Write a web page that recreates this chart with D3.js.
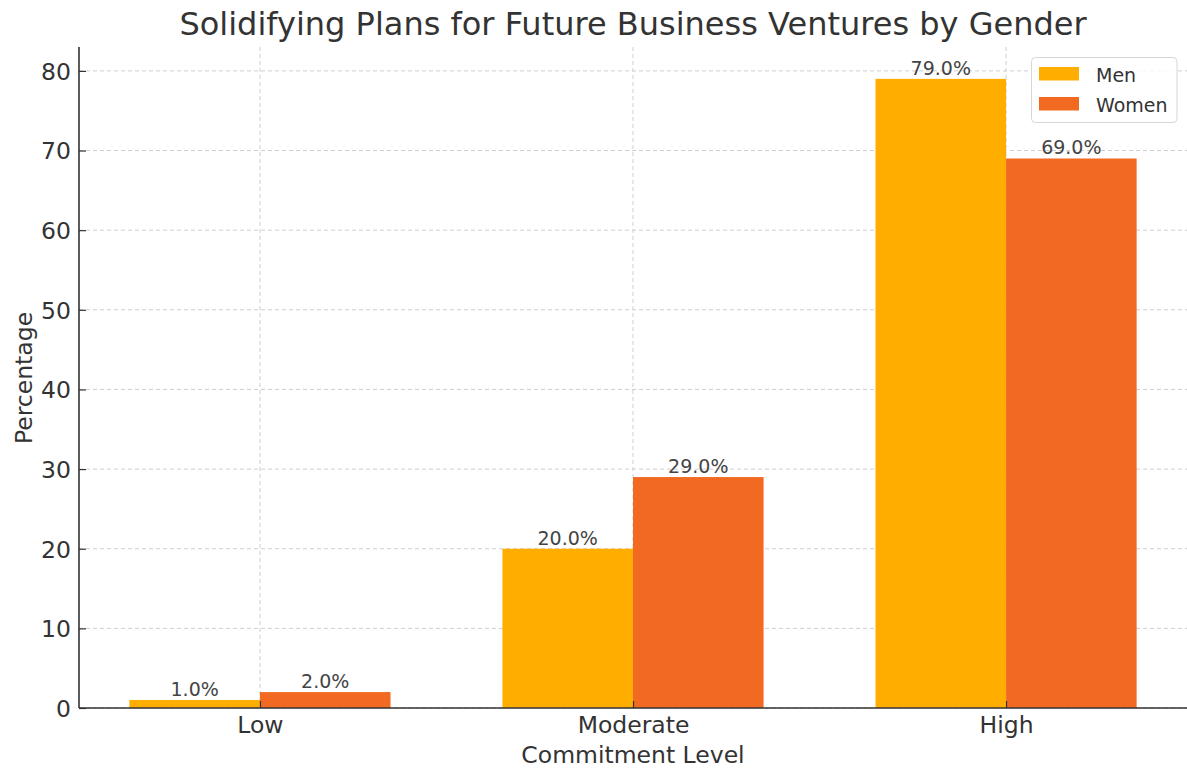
<!DOCTYPE html>
<html><head><meta charset="utf-8">
<script src="https://cdn.jsdelivr.net/npm/d3@7"></script>
<style>body{margin:0;background:#fff}svg{display:block;font-family:"DejaVu Sans",sans-serif}</style>
</head><body><svg id="c" width="1187" height="771"></svg>
<script>
const categories = ["Low", "Moderate", "High"];
const seriesNames = ["Men", "Women"];
const men = [1, 20, 79];
const women = [2, 29, 69];
const yTicks = [0, 10, 20, 30, 40, 50, 60, 70, 80];
const colors = ["#FFAE00", "#F26A22"];

const svg = d3.select("#c");
const L = 79, R = 1187, T = 47, B = 708;
const x = d3.scaleLinear().domain([-0.485, 2.485]).range([L, R]);
const y = d3.scaleLinear().domain([0, 83.0]).range([B, T]);
const bw = 0.35;
const textCol = "#333";

// grid
const g = svg.append("g");
g.selectAll("line.hy").data(yTicks).join("line")
  .attr("x1", L).attr("x2", R).attr("y1", d => y(d)).attr("y2", d => y(d))
  .attr("stroke", "#cfcfcf").attr("stroke-dasharray", "4,3").attr("stroke-width", 1);
g.selectAll("line.vx").data(categories).join("line")
  .attr("x1", (d, i) => x(i)).attr("x2", (d, i) => x(i)).attr("y1", T).attr("y2", B)
  .attr("stroke", "#cfcfcf").attr("stroke-dasharray", "4,3").attr("stroke-width", 1);

// bars
const series = [men, women];
series.forEach((vals, s) => {
  const off = s === 0 ? -bw : 0;
  svg.append("g").selectAll("rect").data(vals).join("rect")
    .attr("x", (d, i) => x(i + off)).attr("width", x(bw) - x(0))
    .attr("y", d => y(d)).attr("height", d => B - y(d))
    .attr("fill", colors[s]);
  svg.append("g").selectAll("text").data(vals).join("text")
    .attr("x", (d, i) => x(i + off + bw / 2)).attr("y", d => y(d) - 4)
    .attr("text-anchor", "middle").attr("font-size", 19).attr("fill", "#444")
    .text(d => d.toFixed(1) + "%");
});

// axes
const ax = svg.append("g").attr("transform", `translate(0,${B})`)
  .call(d3.axisBottom(x).tickValues([0, 1, 2]).tickFormat(i => categories[i]).tickSizeInner(-7).tickSizeOuter(0).tickPadding(8));
const ay = svg.append("g").attr("transform", `translate(${L},0)`)
  .call(d3.axisLeft(y).tickValues(yTicks).tickSizeInner(-7).tickSizeOuter(0).tickPadding(8));
[ax, ay].forEach(a => {
  a.attr("font-size", null).attr("font-family", null);
  a.select(".domain").attr("stroke", textCol).attr("stroke-width", 1.6);
  a.selectAll(".tick line").attr("stroke", textCol).attr("stroke-width", 1.2);
  a.selectAll(".tick text").attr("fill", textCol).attr("font-size", 23.5).attr("font-family", "DejaVu Sans");
});
ax.select(".domain").attr("d", `M${L},0H${R}`);
ay.select(".domain").attr("d", `M0,${T}V${B}`);
ay.selectAll(".tick text").attr("dy", "0.36em");

// titles
svg.append("text").attr("x", (L + R) / 2).attr("y", 35).attr("text-anchor", "middle")
  .attr("font-size", 32).attr("fill", textCol).text("Solidifying Plans for Future Business Ventures by Gender");
svg.append("text").attr("x", (L + R) / 2).attr("y", 763).attr("text-anchor", "middle")
  .attr("font-size", 23.5).attr("fill", textCol).text("Commitment Level");
svg.append("text").attr("transform", `translate(32,378) rotate(-90)`).attr("text-anchor", "middle")
  .attr("font-size", 23.5).attr("fill", textCol).text("Percentage");

// legend
const lg = svg.append("g");
lg.append("rect").attr("x", 1031.5).attr("y", 57.5).attr("width", 145.5).attr("height", 65).attr("rx", 4)
  .attr("fill", "#fff").attr("fill-opacity", 0.85).attr("stroke", "#d6d6d6");
seriesNames.forEach((n, i) => {
  lg.append("rect").attr("x", 1039).attr("y", 67 + i * 30).attr("width", 40).attr("height", 13.5).attr("fill", colors[i]);
  lg.append("text").attr("x", 1096).attr("y", 81.5 + i * 30).attr("font-size", 19).attr("fill", textCol).text(n);
});
</script></body></html>
